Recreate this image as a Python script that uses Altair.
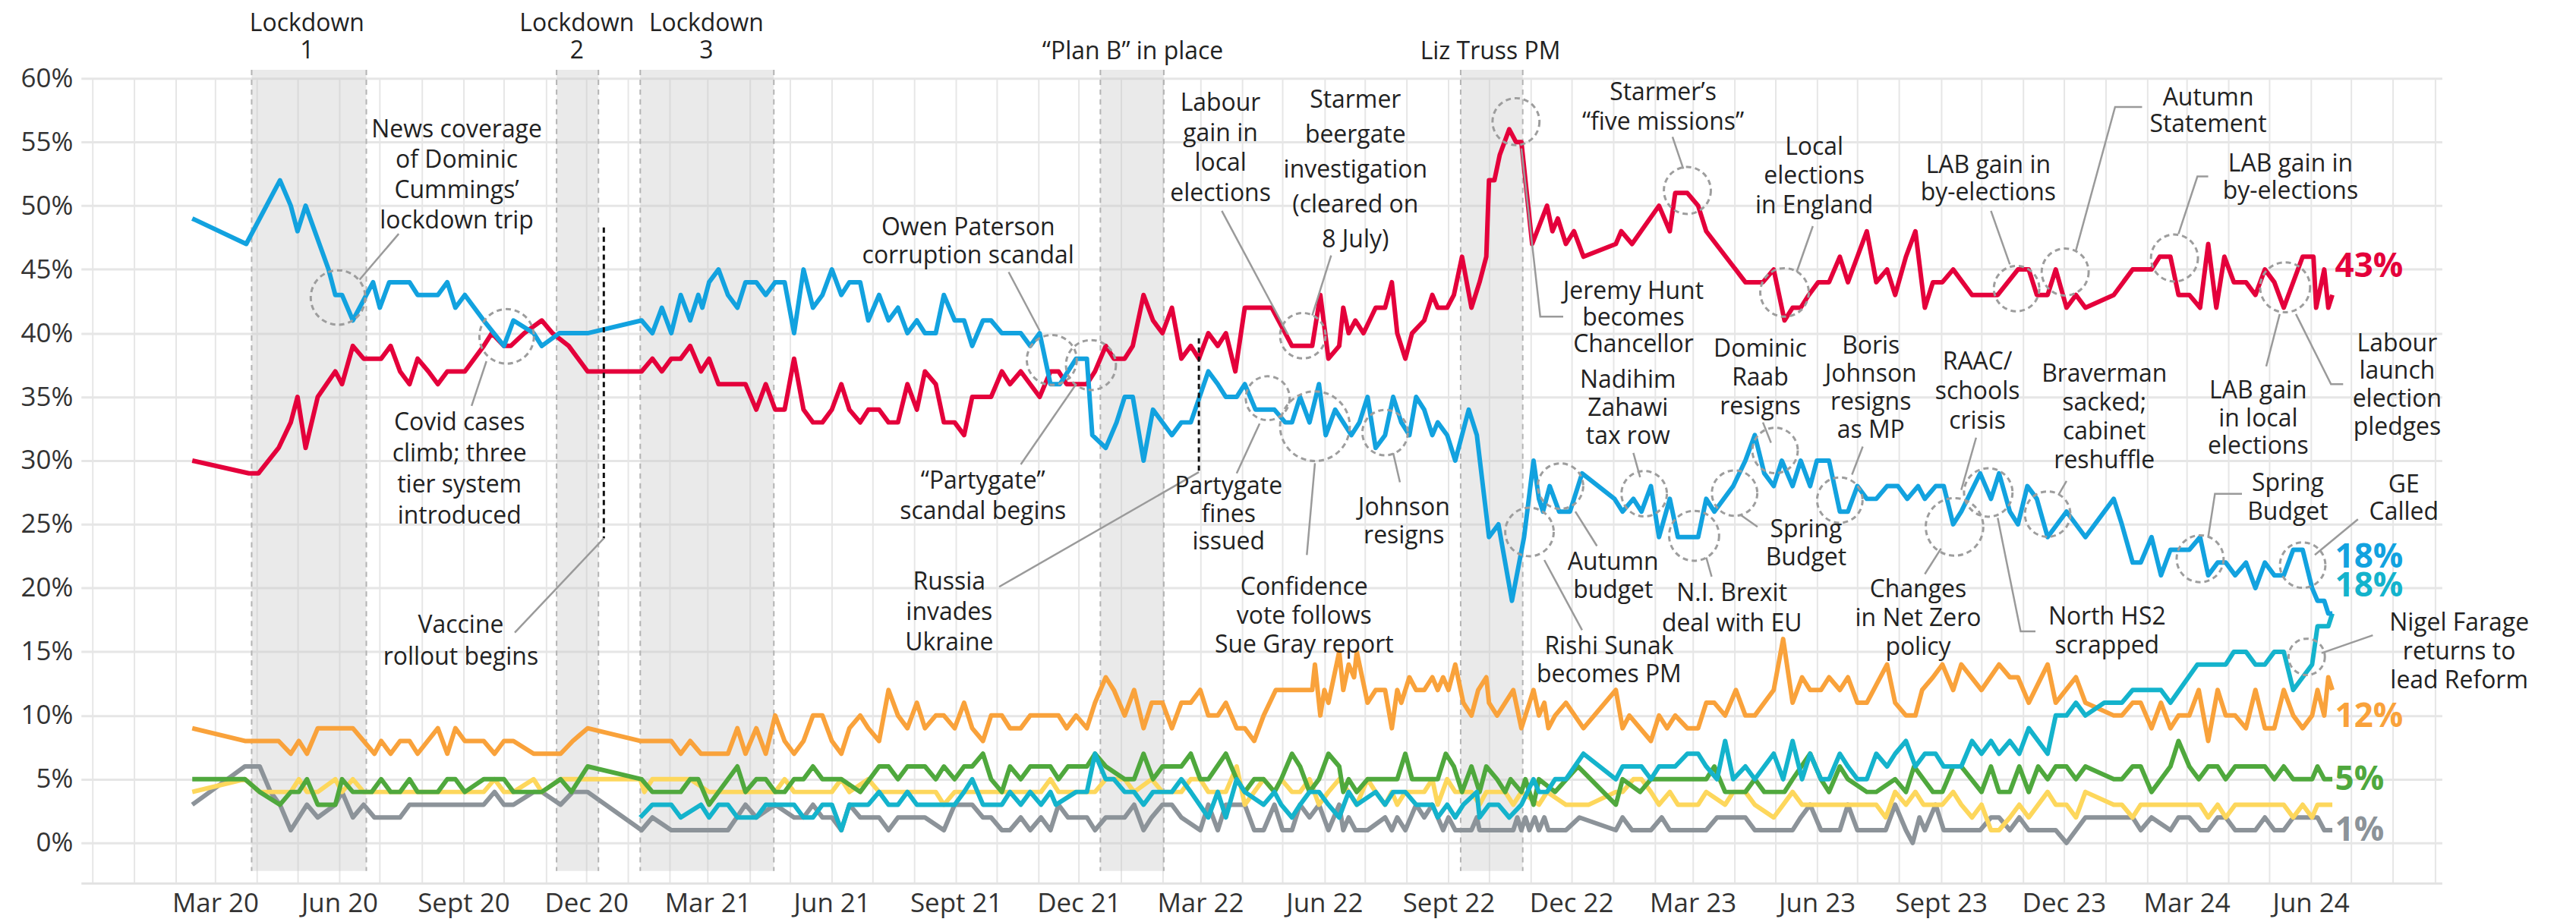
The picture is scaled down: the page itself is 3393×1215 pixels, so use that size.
import altair as alt
import pandas as pd

BASE = pd.Timestamp("2019-12-01")   # day 0 of the day offsets below
FONT = "Open Sans"

# ---- poll series: (days since 1 Dec 2019, share %) ----
CON = [(74,49),(114,47),(139,52),(147,50),(152,48),(158,50),(175,45),(180,43),(185,43),(193,41),(203,43),(208,44),(213,42),(220,44),(235,44),(241,43),(256,43),(263,44),(269,42),(276,43),(290,41),(305,39),(312,41),(327,40),(333,39),(346,40),(367,40),(407,41),
(415,40),(422,42),(429,40),(436,43),(443,41),(449,43),(452,42),(457,44),(464,45),(471,43),(478,42),(484,44),(492,44),(499,43),(506,44),(513,44),(520,40),(527,45),(534,42),(541,43),(548,45),(555,43),(561,44),(569,44),(575,41),(583,43),(590,41),(597,42),(604,40),(611,41),(617,40),(625,40),(631,43),(639,41),(646,41),(652,39),(660,41),(666,41),(674,40),(688,40),(695,39),(702,40),(710,36),(717,36),(723,37),(729,38),(737,38),(741,32),(751,31),(759,33),(765,35),(771,35),(779,30),(786,34),(800,32),(807,33),(814,33),(827,37),(834,36),(840,35),(848,35),(854,36),(862,34),(876,34),(884,33),
(889,33),(895,35),(902,33),(909,36),(914,32),(921,34),(927,33),(933,32),(939,33),(945,35),(951,31),(958,32),(964,35),(970,33),(976,32),(981,35),(987,34),(993,32),(997,33),(1004,32),(1010,30),(1020,34),(1026,32),(1035,24),(1042,25),(1052,19),(1061,24),(1068,30),(1072,27),(1075,26),(1080,28),(1087,26),(1095,26),(1104,29),(1128,27),(1134,26),(1142,27),(1148,26),(1155,28),(1161,24),(1169,27),(1175,24),(1190,24),(1196,27),(1202,26),(1216,28),(1225,30),(1232,32),(1239,29),(1246,28),(1252,30),(1260,28),(1266,30),(1273,28),(1278,30),(1287,30),(1295,26),(1301,26),(1308,28),(1315,27),(1322,27),(1330,28),(1338,28),(1345,27),(1353,28),(1358,27),(1366,28),(1372,28),(1379,25),(1385,26),(1399,29),(1407,27),(1413,29),(1421,26),(1427,25),(1434,28),(1441,27),(1449,24),(1463,26),(1477,24),(1498,27),(1504,25),(1512,22),(1518,22),(1526,24),(1533,21),(1540,23),(1546,23),(1554,23),(1562,24),(1568,21),(1575,22),(1581,22),(1588,21),(1596,22),(1603,20),(1610,22),(1617,21),(1624,21),(1631,23),(1638,23),(1645,20),(1649,19),(1654,19),(1657,18),(1660,18)]

LAB = [(74,30),(116,29),(123,29),(138,31),(147,33),(152,35),(158,31),(167,35),(180,37),(185,36),(193,39),(201,38),(214,38),(221,39),(228,37),(235,36),(241,38),(249,37),(256,36),(263,37),(276,37),(290,39),(296,40),(305,39),(310,39),(320,40),(333,41),(341,40),(353,39),(367,37),(407,37),(415,38),
(422,37),(429,38),(436,38),(443,39),(451,37),(457,38),(464,36),(484,36),(492,34),(499,36),(506,34),(513,34),(520,38),(527,34),(534,33),(541,33),(548,34),(555,36),(561,34),(569,33),(575,34),(583,34),(590,33),(597,33),(604,36),(611,34),(617,37),(625,36),(631,33),(639,33),(646,32),(652,35),(666,35),(674,37),(680,36),(688,37),(695,36),(702,35),(710,37),(716,37),(722,36),(729,36),(737,36),(743,37),(751,39),(757,38),(765,38),(771,39),(779,43),(786,41),(793,40),(800,42),(807,38),(814,39),(820,38),(827,40),(834,39),(840,40),(847,37),(854,42),(874,42),(884,40),
(889,39),(904,39),(910,43),(916,38),(924,39),(927,42),(931,40),(936,41),(942,40),(951,42),(958,42),(963,44),(967,40),(973,38),(978,40),(987,41),(993,43),(997,42),(1004,42),(1009,43),(1015,46),(1022,42),(1028,44),(1033,46),(1035,52),(1039,52),(1043,54),(1050,56),(1055,55),(1059,55),(1067,47),(1078,50),(1082,48),(1086,49),(1092,47),(1098,48),(1105,46),(1129,47),(1133,48),(1141,47),(1161,50),(1169,48),(1173,51),(1182,51),(1190,50),(1196,48),(1225,44),(1238,44),(1246,45),(1254,41),(1260,42),(1266,42),(1272,43),(1279,44),(1287,44),(1295,46),(1301,44),(1308,46),(1315,48),(1322,44),(1330,45),(1336,43),(1344,46),(1351,48),(1358,42),(1364,44),(1371,44),(1379,45),(1393,43),(1412,43),(1427,45),(1435,45),(1441,43),(1449,43),(1455,45),(1463,42),(1470,43),(1477,42),(1498,43),(1512,45),(1526,45),(1532,46),(1540,46),(1546,43),(1554,43),(1562,42),(1568,47),(1574,42),(1580,46),(1587,44),(1596,44),(1603,43),(1610,45),(1617,44),(1624,42),(1638,46),(1646,46),(1648,42),(1654,45),(1657,42),(1660,43)]

LD = [(74,9),(113,8),(138,8),(147,7),(153,8),(159,7),(167,9),(193,9),(209,7),(214,8),(221,7),(228,8),(235,8),(241,7),(256,9),(263,7),(269,9),(276,8),(290,8),(298,7),(305,8),(312,8),(327,7),(347,7),(356,8),(367,9),(406,8),
(429,8),(436,7),(443,8),(451,7),(471,7),(478,9),(484,7),(492,9),(499,7),(506,10),(513,8),(520,7),(527,8),(534,10),(541,10),(548,8),(555,7),(561,9),(569,10),(575,9),(583,8),(590,12),(597,10),(604,9),(611,11),(617,9),(625,10),(631,10),(639,9),(646,11),(652,9),(660,8),(666,10),(674,10),(680,9),(688,9),(695,10),(716,10),(722,9),(729,10),(737,9),(743,11),(751,13),(757,12),(765,10),(772,12),(779,9),(785,11),(793,11),(800,9),(807,11),(814,11),(821,12),(827,10),(834,10),(840,11),(848,9),(854,9),(861,8),(868,10),(877,12),
(904,12),(906,14),(910,10),(913,12),(916,11),(924,15),(927,12),(931,14),(935,13),(937,15),(945,11),(951,12),(958,12),(963,9),(967,12),(970,11),(976,13),(981,12),(987,12),(993,13),(997,12),(1001,13),(1005,12),(1010,14),(1016,11),(1022,10),(1027,12),(1033,13),(1035,11),(1041,10),(1053,12),(1059,9),(1068,12),(1072,10),(1076,11),(1079,9),(1084,10),(1092,11),(1105,9),(1129,12),(1134,9),(1139,10),(1155,8),(1161,10),(1167,9),(1173,10),(1182,9),(1190,9),(1196,11),(1202,11),(1210,10),(1218,12),(1225,10),(1232,10),(1246,12),(1253,16),(1260,11),(1267,13),(1273,12),(1281,12),(1287,13),(1295,12),(1301,13),(1308,11),(1315,11),(1330,14),(1336,11),(1344,10),(1351,10),(1356,12),(1364,13),(1371,14),(1379,12),(1385,14),(1400,12),(1413,14),(1421,13),(1427,13),(1435,11),(1449,14),(1455,11),(1470,13),(1477,11),(1498,10),(1504,10),(1512,11),(1518,11),(1526,9),(1533,11),(1540,9),(1546,10),(1554,10),(1561,12),(1568,8),(1575,12),(1581,10),(1588,10),(1596,9),(1603,12),(1610,9),(1617,9),(1624,12),(1631,10),(1638,9),(1645,10),(1649,12),(1654,10),(1657,13),(1660,12)]

GRN = [(74,5),(113,5),(124,4),(139,3),(147,4),(153,4),(159,5),(167,3),(180,3),(185,5),(193,4),(207,4),(214,5),(221,4),(228,4),(235,5),(241,4),(256,4),(263,5),(269,5),(276,4),(290,5),(305,5),(312,4),(333,4),(347,5),(355,4),(367,6),(407,5),
(415,4),(436,4),(443,5),(449,5),(457,3),(478,6),(484,4),(492,5),(499,5),(506,4),(513,4),(520,5),(527,5),(534,6),(541,5),(555,5),(569,4),(583,6),(590,6),(597,5),(604,6),(617,6),(625,5),(631,6),(639,5),(646,6),(652,6),(660,7),(666,5),(674,4),(680,6),(688,5),(695,6),(710,6),(716,5),(723,6),(737,6),(743,7),(751,6),(765,5),(772,5),(779,7),(786,5),(793,6),(807,6),(814,7),(821,5),(827,5),(840,7),(848,5),(854,4),(861,5),(868,5),(876,4),(881,5),
(889,7),(895,6),(902,4),(909,5),(916,7),(924,6),(927,4),(931,5),(937,4),(945,5),(967,5),(973,7),(978,5),(997,5),(1003,7),(1009,6),(1015,4),(1022,6),(1028,4),(1033,6),(1041,5),(1047,4),(1051,5),(1059,4),(1062,5),(1068,3),(1072,5),(1084,4),(1101,6),(1129,3),(1134,5),(1147,4),(1155,5),(1196,5),(1202,6),(1210,4),(1225,4),(1232,5),(1239,4),(1254,4),(1260,5),(1273,7),(1281,5),(1287,4),(1295,6),(1301,5),(1315,4),(1322,4),(1336,5),(1344,4),(1350,6),(1364,4),(1371,4),(1379,6),(1385,6),(1400,4),(1407,6),(1413,4),(1421,4),(1428,6),(1435,4),(1442,6),(1449,5),(1455,6),(1463,6),(1470,5),(1477,6),(1498,5),(1504,5),(1512,6),(1518,6),(1526,4),(1540,6),(1546,8),(1554,6),(1561,5),(1568,6),(1575,6),(1581,5),(1588,6),(1610,6),(1617,5),(1624,6),(1631,5),(1645,5),(1649,6),(1654,5),(1660,5)]

SNP = [(74,4),(113,5),(124,4),(147,4),(153,5),(159,4),(167,4),(180,5),(185,4),(193,5),(201,4),(290,4),(298,5),(305,4),(312,4),(327,5),(333,4),(347,5),(406,5),(409,4),(415,5),(443,5),(457,4),(506,4),(513,5),(520,4),(548,4),(555,5),(561,4),(575,5),(583,4),(625,4),(631,3),(639,4),(703,4),(710,5),(716,4),(743,4),(751,5),(765,5),(772,4),(785,5),(793,4),(807,4),(814,5),(821,5),(827,4),(840,4),(848,6),(854,3),(861,4),(868,5),(876,4),(881,5),(889,4),(895,4),(902,5),(909,3),(916,4),(924,5),(931,4),(937,3),(945,5),(951,4),(958,3),(963,4),(967,3),(973,4),(987,4),(993,5),(997,3),(1004,5),(1010,4),(1022,4),(1028,3),(1033,4),(1047,4),(1053,3),(1059,4),(1072,3),(1078,4),(1092,3),(1109,3),(1129,4),(1134,4),(1142,5),(1148,5),(1155,4),(1161,3),(1169,4),(1175,3),(1190,3),(1196,4),(1210,3),(1216,4),(1225,4),(1232,3),(1246,2),(1253,3),(1260,4),(1267,3),(1322,3),(1329,2),(1336,4),(1344,3),(1351,4),(1357,3),(1371,3),(1379,4),(1385,3),(1393,2),(1400,3),(1407,1),(1413,1),(1421,2),(1428,3),(1435,2),(1449,4),(1455,3),(1463,3),(1470,2),(1477,4),(1498,3),(1504,3),(1512,2),(1518,3),(1562,3),(1568,2),(1575,3),(1581,2),(1588,3),(1624,3),(1631,2),(1638,3),(1645,2),(1649,3),(1660,3)]

OTH = [(74,3),(113,6),(124,6),(132,4),(139,3),(147,1),(159,3),(167,2),(180,3),(185,4),(193,2),(201,3),(209,2),(228,2),(235,3),(241,3),(290,3),(298,4),(305,3),(312,3),(327,4),(333,4),(347,3),(356,4),(367,4),(407,1),(415,2),(429,1),(471,1),(484,3),(492,2),(506,3),(520,2),(527,2),(534,3),(541,2),(548,2),(555,1),(561,3),(569,2),(583,2),(590,1),(597,2),(617,2),(631,1),(639,3),(652,3),(660,2),(666,2),(674,1),(680,1),(688,2),(695,1),(703,2),(710,1),(716,3),(723,2),(737,2),(743,1),(751,2),(765,2),(772,3),(779,1),(785,2),(793,3),(800,3),(807,2),(821,1),(827,3),(834,1),(840,3),(854,3),(861,1),(868,1),(876,3),(882,1),(889,1),(895,3),(902,2),(909,3),(916,1),(924,3),(927,1),(931,2),(936,1),(945,1),(958,2),(963,1),(967,2),(973,1),(981,3),(987,2),(993,3),(1001,1),(1005,2),(1010,1),(1022,1),(1026,2),(1028,1),(1053,1),(1056,2),(1059,1),(1062,2),(1065,1),(1069,2),(1072,1),(1076,2),(1079,1),(1092,1),(1102,2),(1129,1),(1134,2),(1141,1),(1155,1),(1163,2),(1169,1),(1196,1),(1204,2),(1225,2),(1232,1),(1260,1),(1266,2),(1273,3),(1281,1),(1295,1),(1301,3),(1308,1),(1329,1),(1336,3),(1344,1),(1349,0),(1354,2),(1358,1),(1366,3),(1372,1),(1399,1),(1407,2),(1413,2),(1421,1),(1428,2),(1435,1),(1455,1),(1463,0),(1477,2),(1504,2),(1512,2),(1518,1),(1526,2),(1540,1),(1546,2),(1554,2),(1562,1),(1568,1),(1575,2),(1581,2),(1588,1),(1603,1),(1610,2),(1617,1),(1624,1),(1631,2),(1649,2),(1654,1),(1660,1)]

REF = [(406,2),(415,3),(429,3),(436,2),(451,3),(457,2),(464,3),(471,3),(478,2),(492,2),(499,3),(520,3),(527,2),(534,2),(541,3),(548,3),(555,1),(561,3),(575,3),(583,4),(590,3),(597,3),(604,4),(611,3),(631,3),(639,3),(646,4),(652,5),(660,3),(674,3),(680,4),(688,3),(695,4),(703,3),(710,4),(714,3),(729,4),(737,4),(743,7),(751,5),(757,5),(765,4),(772,4),(779,3),(786,4),(800,4),(807,5),(814,4),(827,2),(834,4),(840,2),(848,5),(854,4),(868,3),(876,4),(881,3),(889,2),(895,3),(902,4),(909,4),(916,3),(924,2),(931,4),(937,3),(951,4),(958,3),(964,4),(973,4),(981,3),(993,3),(997,2),(1004,3),(1010,2),(1016,3),(1026,4),(1028,2),(1035,3),(1042,3),(1050,2),(1059,3),(1068,5),(1072,4),(1078,4),(1084,5),(1092,5),(1105,7),(1129,5),(1134,6),(1148,6),(1155,5),(1161,6),(1173,6),(1182,7),(1190,7),(1196,6),(1204,5),(1210,8),(1216,5),(1225,6),(1232,5),(1246,7),(1253,5),(1260,8),(1267,5),(1273,7),(1281,5),(1287,5),(1295,7),(1301,6),(1308,5),(1315,5),(1322,7),(1330,6),(1336,7),(1344,8),(1351,6),(1358,7),(1366,7),(1372,6),(1385,6),(1393,8),(1400,7),(1407,8),(1413,7),(1421,8),(1428,7),(1435,9),(1449,7),(1455,10),(1463,10),(1470,11),(1477,10),(1491,11),(1504,11),(1512,12),(1533,12),(1540,11),(1560,14),(1581,14),(1587,15),(1596,15),(1603,14),(1610,14),(1617,15),(1624,15),(1631,12),(1638,13),(1645,14),(1649,17),(1657,17),(1660,18)]

# drawing order (back to front) and colours
PARTIES = [("Other", OTH, "#8c9399"), ("SNP", SNP, "#fdd75c"), ("Green", GRN, "#4fa83d"),
           ("Lib Dem", LD, "#f9a23b"), ("Reform", REF, "#14b3cc"), ("Labour", LAB, "#e4003b"),
           ("Conservative", CON, "#12a2df")]

END_LABELS = [("43%", 45.2, "#e4003b"), ("18%", 22.4, "#12a2df"), ("18%", 20.1, "#14b3cc"),
              ("12%", 9.9, "#f9a23b"), ("5%", 4.9, "#4fa83d"), ("1%", 0.95, "#8c9399")]
END_DAY = 1662

# shaded periods (start day, end day)
REGIONS = [(118, 203), (344, 375), (406, 505), (747, 794), (1014, 1060)]
REGION_TOP, REGION_BOT = 60.67, -2.2
TOP_LABELS = [(["Lockdown", "1"], 159, 63.2), (["Lockdown", "2"], 359, 63.2), (["Lockdown", "3"], 455, 63.2),
              (["\u201cPlan B\u201d in place"], 771, 62.1), (["Liz Truss PM"], 1036, 62.1)]

# black dashed event markers: day, top %, bottom %
EVENT_RULES = [(379, 48.3, 23.9), (820, 39.6, 29.1)]

# annotations: lines, day, % (block centre), line height
ANNOTATIONS = [
    (["News coverage", "of Dominic", "Cummings\u2019", "lockdown trip"], 270, 52.4, 40),
    (["Covid cases", "climb; three", "tier system", "introduced"], 272, 29.3, 41),
    (["Vaccine", "rollout begins"], 273, 15.8, 42),
    (["Owen Paterson", "corruption scandal"], 649, 47.2, 37),
    (["\u201cPartygate\u201d", "scandal begins"], 660, 27.2, 40),
    (["Russia", "invades", "Ukraine"], 635, 18.1, 40),
    (["Labour", "gain in", "local", "elections"], 836, 54.5, 40),
    (["Starmer", "beergate", "investigation", "(cleared on", "8 July)"], 936, 52.8, 46),
    (["Jeremy Hunt", "becomes", "Chancellor"], 1142, 41.2, 35),
    (["Starmer\u2019s", "\u201cfive missions\u201d"], 1164, 57.7, 39),
    (["Local", "elections", "in England"], 1276, 52.3, 39),
    (["LAB gain in", "by-elections"], 1405, 52.1, 36),
    (["Autumn", "Statement"], 1568, 57.4, 35),
    (["LAB gain in", "by-elections"], 1629, 52.2, 36),
    (["LAB gain", "in local", "elections"], 1605, 33.3, 37),
    (["Labour", "launch", "election", "pledges"], 1708, 35.9, 37),
    (["Nadihim", "Zahawi", "tax row"], 1138, 34.1, 37),
    (["Dominic", "Raab", "resigns"], 1236, 36.5, 38),
    (["Boris", "Johnson", "resigns", "as MP"], 1318, 35.7, 37),
    (["RAAC/", "schools", "crisis"], 1397, 35.4, 39),
    (["Braverman", "sacked;", "cabinet", "reshuffle"], 1491, 33.4, 38),
    (["Changes", "in Net Zero", "policy"], 1353, 17.6, 38),
    (["North HS2", "scrapped"], 1493, 16.6, 39),
    (["Spring", "Budget"], 1270, 23.5, 37),
    (["N.I. Brexit", "deal with EU"], 1215, 18.4, 40),
    (["Autumn", "budget"], 1127, 20.9, 37),
    (["Rishi Sunak", "becomes PM"], 1124, 14.3, 37),
    (["Johnson", "resigns"], 972, 25.2, 37),
    (["Confidence", "vote follows", "Sue Gray report"], 898, 17.8, 38),
    (["Partygate", "fines", "issued"], 842, 25.8, 37),
    (["Spring", "Budget"], 1627, 27.1, 38),
    (["GE", "Called"], 1713, 27.0, 36),
    (["Nigel Farage", "returns to", "lead Reform"], 1754, 15.0, 38),
]

# leader lines: list of (day, %)
LEADERS = [
    [(227, 47.8), (198, 44.2)], [(281, 34.3), (292, 37.8)], [(313, 16.5), (379, 23.9)],
    [(679, 44.8), (702, 40.2)], [(688, 29.7), (729, 36.0)], [(672, 20.1), (820, 29.1)],
    [(837, 49.6), (886, 39.9)], [(918, 46.1), (904, 41.4)],
    [(1090, 41.3), (1073, 41.3), (1059, 54.5)], [(1171, 55.4), (1179, 52.9)],
    [(1275, 48.4), (1263, 44.8)], [(1407, 49.6), (1421, 45.4)],
    [(1519, 57.75), (1499, 57.75), (1470, 46.5)], [(1568, 52.3), (1560, 52.3), (1546, 47.8)],
    [(1611, 37.4), (1621, 41.5)], [(1668, 36.0), (1659, 36.0), (1633, 41.5)],
    [(1142, 30.6), (1147, 28.7)], [(1238, 33.0), (1244, 31.4)], [(1312, 31.1), (1304, 28.9)],
    [(1396, 31.8), (1385, 27.7)], [(1463, 28.4), (1457, 27.3)], [(1358, 21.1), (1370, 23.1)],
    [(1440, 16.6), (1429, 16.6), (1412, 25.5)], [(1234, 24.8), (1222, 25.7)],
    [(1200, 20.9), (1196, 22.4)], [(1115, 23.3), (1099, 26.0)], [(1104, 16.7), (1076, 22.2)],
    [(969, 28.3), (964, 30.6)], [(900, 22.6), (906, 29.8)], [(848, 29.0), (865, 32.9)],
    [(1593, 27.4), (1573, 27.4), (1568, 24.0)], [(1679, 25.4), (1647, 22.6)],
    [(1690, 16.3), (1652, 14.9)],
]

# dashed highlight circles (day, %, radius in px)
CIRCLES = [(182, 42.8, 36), (307, 39.75, 36), (711, 37.9, 33), (740, 37.5, 33), (897, 39.8, 30),
           (1055, 56.6, 31), (1182, 51.2, 31), (1254, 43.2, 32), (1426, 43.5, 30), (1462, 44.8, 31),
           (1543, 45.9, 31), (1625, 43.6, 33), (1150, 27.4, 30), (1247, 30.8, 30), (1295, 26.9, 30),
           (1405, 27.5, 32), (1449, 25.8, 30), (1380, 24.8, 38), (1217, 27.45, 30), (1187, 24.1, 33),
           (1088, 28.0, 30), (1065, 24.4, 32), (958, 32.2, 30), (906, 32.7, 46), (871, 34.9, 29),
           (1562, 22.3, 31), (1638, 21.8, 30), (1641, 14.6, 24)]


def iso(d):
    return (BASE + pd.Timedelta(days=float(d))).strftime("%Y-%m-%dT%H:%M:%SZ")


xs = alt.Scale(type="utc", nice=False,
               domain=[alt.DateTime(year=2019, month=11, date=22, hours=14, utc=True),
                       alt.DateTime(year=2024, month=9, date=6, hours=5, utc=True)])
ys = alt.Scale(domain=[-3.15, 60], nice=False, zero=False)

months = []
y, m = 2019, 12
while (y, m) <= (2024, 9):
    months.append(alt.DateTime(year=y, month=m, date=1, utc=True))
    m += 1
    if m > 12:
        y, m = y + 1, 1

label_expr = (
    "(utcyear(datum.value)*12+utcmonth(datum.value) < 2020*12+2 || "
    "utcyear(datum.value)*12+utcmonth(datum.value) > 2024*12+5) ? '' : "
    "utcmonth(datum.value)==2 ? 'Mar ' + utcFormat(datum.value,'%y') : "
    "utcmonth(datum.value)==5 ? 'Jun ' + utcFormat(datum.value,'%y') : "
    "utcmonth(datum.value)==8 ? 'Sept ' + utcFormat(datum.value,'%y') : "
    "utcmonth(datum.value)==11 ? 'Dec ' + utcFormat(datum.value,'%y') : ''"
)
xaxis = alt.Axis(values=months, labelExpr=label_expr, grid=True, gridColor="#e6e6e6", gridWidth=2,
                 ticks=False, domain=True, domainColor="#e2e2e2", domainWidth=3,
                 labelFont=FONT, labelFontSize=35, labelColor="#333333", labelPadding=10,
                 labelOverlap=False, labelFlush=False, labelBound=False, title=None)
yaxis = alt.Axis(values=list(range(0, 61, 5)), labelExpr="datum.value + '%'", grid=True,
                 gridColor="#e6e6e6", gridWidth=3, ticks=False, domain=False,
                 labelFont=FONT, labelFontSize=35, labelColor="#333333", labelPadding=11, title=None)


def X(field):
    return alt.X(field, scale=xs, axis=xaxis, title=None)


def Y(field):
    return alt.Y(field, scale=ys, axis=yaxis, title=None)


layers = []

reg_vals = [{"s": iso(a), "e": iso(b), "top": REGION_TOP, "bot": REGION_BOT} for a, b in REGIONS]
layers.append(alt.Chart(alt.Data(values=reg_vals)).mark_rect(color="#c4c4c4", opacity=0.36).encode(
    x=X("s:T"), x2="e:T", y=Y("top:Q"), y2="bot:Q"))

edge_vals = [{"d": iso(v), "top": REGION_TOP, "bot": REGION_BOT} for a, b in REGIONS for v in (a, b)]
layers.append(alt.Chart(alt.Data(values=edge_vals)).mark_rule(
    color="#b3b3b3", strokeWidth=2, strokeDash=[7, 6]).encode(x=X("d:T"), y=Y("top:Q"), y2="bot:Q"))

for name, pts, col in PARTIES:
    vals = [{"date": iso(d), "pct": p} for d, p in pts]
    layers.append(alt.Chart(alt.Data(values=vals)).mark_line(
        color=col, strokeWidth=6, strokeJoin="round").encode(x=X("date:T"), y=Y("pct:Q")))

ev_vals = [{"d": iso(d), "top": t, "bot": b} for d, t, b in EVENT_RULES]
layers.append(alt.Chart(alt.Data(values=ev_vals)).mark_rule(
    color="#111111", strokeWidth=3, strokeDash=[7, 5]).encode(x=X("d:T"), y=Y("top:Q"), y2="bot:Q"))

lead_vals = [{"id": i, "k": k, "date": iso(d), "v": v}
             for i, pts in enumerate(LEADERS) for k, (d, v) in enumerate(pts)]
layers.append(alt.Chart(alt.Data(values=lead_vals)).mark_line(
    color="#9a9a9a", strokeWidth=2.5).encode(x=X("date:T"), y=Y("v:Q"), detail="id:N", order="k:Q"))

circ_vals = [{"date": iso(d), "v": v, "s": 4 * r * r} for d, v, r in CIRCLES]
layers.append(alt.Chart(alt.Data(values=circ_vals)).mark_point(
    shape="circle", filled=False, color="#9d9d9d", strokeWidth=3,
    strokeDash=[7, 5], opacity=1).encode(x=X("date:T"), y=Y("v:Q"),
                                         size=alt.Size("s:Q", scale=None, legend=None)))

for lines, d, v, lh in ANNOTATIONS:
    layers.append(alt.Chart(alt.Data(values=[{"t": lines, "date": iso(d), "v": v}])).mark_text(
        font=FONT, fontSize=32, color="#222222", align="center", baseline="middle",
        lineHeight=lh, dy=-(len(lines) - 1) * lh / 2).encode(x=X("date:T"), y=Y("v:Q"), text="t:N"))

for lines, d, v in TOP_LABELS:
    layers.append(alt.Chart(alt.Data(values=[{"t": lines, "date": iso(d), "v": v}])).mark_text(
        font=FONT, fontSize=32, color="#222222", align="center", baseline="middle",
        lineHeight=36, dy=-(len(lines) - 1) * 18).encode(x=X("date:T"), y=Y("v:Q"), text="t:N"))

end_vals = [{"t": t, "v": v, "c": c, "date": iso(END_DAY)} for t, v, c in END_LABELS]
layers.append(alt.Chart(alt.Data(values=end_vals)).mark_text(
    font=FONT, fontSize=44, fontWeight="bold", align="left", baseline="middle").encode(
    x=X("date:T"), y=Y("v:Q"), text="t:N", color=alt.Color("c:N", scale=None)))

chart = alt.layer(*layers).properties(
    width=3117, height=1063,
    autosize=alt.AutoSizeParams(type="none"),
    padding={"left": 99, "top": 94, "right": 169, "bottom": 50},
    background="white",
).configure_view(strokeWidth=0)

chart.save("out.html", embed_options={"renderer": "svg", "actions": False})
